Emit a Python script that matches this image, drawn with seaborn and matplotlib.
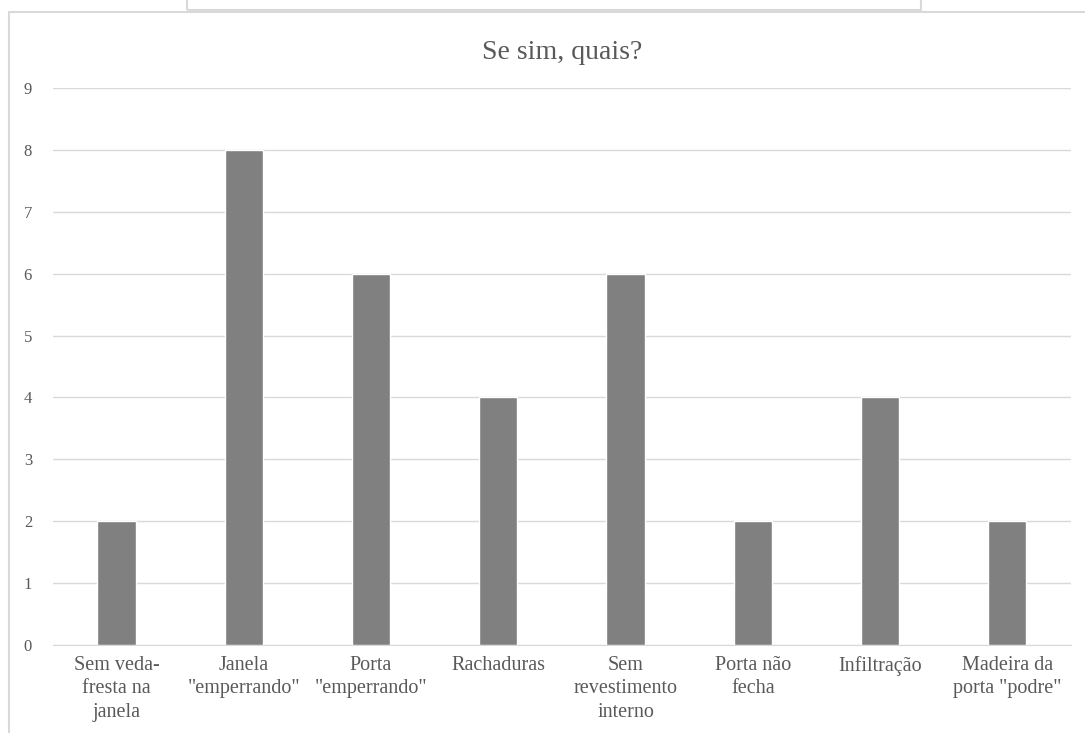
import matplotlib
matplotlib.use("Agg")
import matplotlib.pyplot as plt
import matplotlib.patches as mpatches
import seaborn as sns
import pandas as pd

# Data
categorias = [
    "Sem veda-\nfresta na\njanela",
    "Janela\n\"emperrando\"",
    "Porta\n\"emperrando\"",
    "Rachaduras",
    "Sem\nrevestimento\ninterno",
    "Porta não\nfecha",
    "Infiltração",
    "Madeira da\nporta \"podre\"",
]
valores = [2, 8, 6, 4, 6, 2, 4, 2]
y_ticks = list(range(0, 10))

df = pd.DataFrame({"cat": categorias, "val": valores})

sns.set_style("white")
plt.rcParams["font.family"] = ["Liberation Serif", "DejaVu Serif"]

fig = plt.figure(figsize=(10.85, 7.33), dpi=100)
ax = fig.add_axes([0.0488, 0.12, 0.9382, 0.76])

sns.barplot(data=df, x="cat", y="val", color="#808080", saturation=1,
            width=0.3, ax=ax, zorder=3)

ax.set_ylim(0, 9)
ax.set_yticks(y_ticks)
ax.grid(axis="y", color="#d9d9d9", linewidth=1, zorder=0)
for s in ["top", "right", "left"]:
    ax.spines[s].set_visible(False)
ax.spines["bottom"].set_color("#d9d9d9")
ax.tick_params(axis="both", length=0, colors="#595959")
ax.tick_params(axis="y", pad=15, labelsize=12)
ax.tick_params(axis="x", pad=8, labelsize=14.5)
for lbl in ax.get_xticklabels():
    lbl.set_linespacing(1.3)
ax.set_xlabel("")
ax.set_ylabel("")
ax.set_title("Se sim, quais?", fontsize=20, color="#595959", pad=21)

# chart frames
fig.patches.append(mpatches.Rectangle((9 / 1085, -0.05), 1.2, 1 - 12 / 733 + 0.05,
                                      transform=fig.transFigure, fill=False,
                                      edgecolor="#d9d9d9", linewidth=1.5))
fig.patches.append(mpatches.Rectangle((187 / 1085, 1 - 10 / 733), (921 - 187) / 1085, 0.1,
                                      transform=fig.transFigure, fill=False,
                                      edgecolor="#d9d9d9", linewidth=1.5))

fig.savefig("out.png", dpi=100)
